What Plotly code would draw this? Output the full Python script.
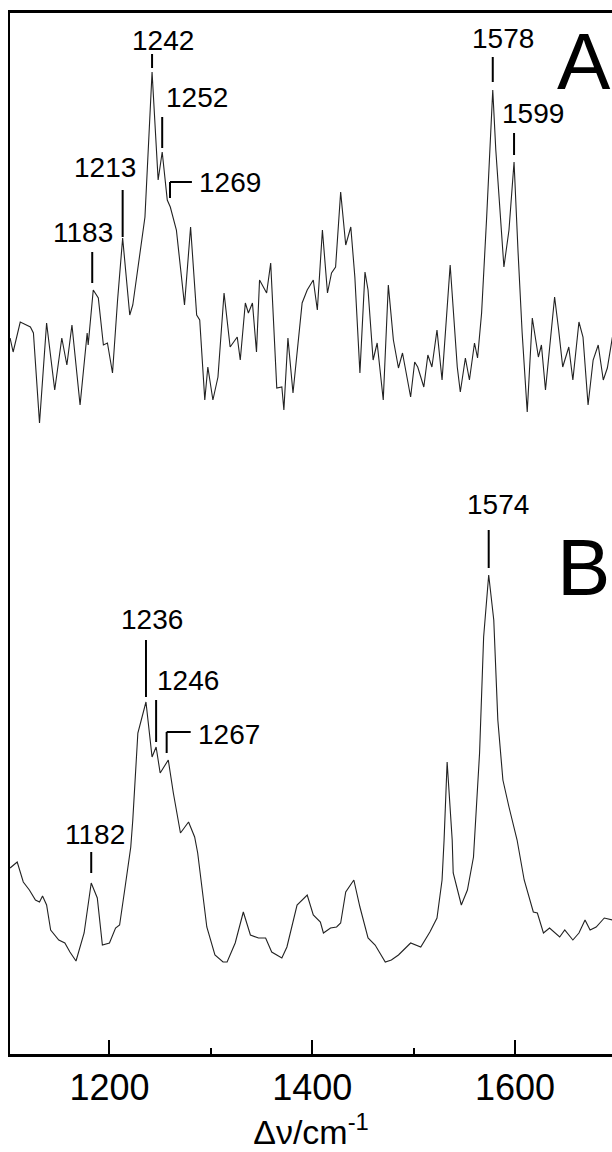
import plotly.graph_objects as go

# Raman spectra (wavenumber in cm-1, intensity in arbitrary offset units)
wn_a = [1102, 1105, 1112, 1122, 1125, 1131, 1138, 1146, 1153, 1158, 1163, 1171, 1178, 1179,
        1184, 1189, 1194, 1198, 1203, 1208, 1213, 1220, 1223, 1235, 1242, 1248, 1252, 1257,
        1260, 1266, 1274, 1280, 1286, 1289, 1294, 1297, 1302, 1307, 1313, 1319, 1326, 1329,
        1334, 1337, 1341, 1345, 1348, 1355, 1359, 1365, 1370, 1372, 1376, 1381, 1390, 1395,
        1401, 1405, 1410, 1415, 1419, 1423, 1428, 1433, 1438, 1442, 1447, 1452, 1455, 1460,
        1464, 1470, 1475, 1480, 1485, 1489, 1497, 1501, 1504, 1510, 1514, 1518, 1523, 1528,
        1536, 1543, 1546, 1551, 1555, 1560, 1563, 1567, 1572, 1578, 1581, 1584, 1589, 1594,
        1599, 1603, 1607, 1612, 1617, 1623, 1626, 1630, 1639, 1643, 1647, 1653, 1657, 1663,
        1667, 1672, 1677, 1682, 1687, 1691, 1696]
int_a = [71.6, 70.2, 73.2, 72.7, 72.1, 63.1, 73.1, 66.4, 71.6, 68.9, 72.9, 64.9, 72.1, 70.9,
         76.4, 75.6, 70.9, 71.1, 68.1, 75.4, 81.6, 73.9, 74.9, 83.7, 98.2, 87.4, 90.2, 85.4,
         84.7, 82.4, 74.9, 82.7, 73.9, 73.4, 65.4, 68.7, 65.4, 67.7, 76.1, 70.7, 71.7, 69.4,
         75.1, 74.1, 75.1, 70.2, 77.4, 76.1, 79.1, 66.6, 66.7, 64.4, 71.6, 66.1, 75.1, 76.4,
         77.4, 74.4, 82.4, 76.1, 78.1, 78.7, 86.2, 80.9, 82.7, 77.7, 68.1, 78.2, 76.4, 69.4,
         71.1, 65.4, 76.9, 71.4, 68.6, 70.1, 65.7, 69.2, 68.7, 66.7, 69.9, 68.7, 72.4, 67.4,
         78.9, 68.7, 66.2, 69.6, 67.4, 71.1, 69.6, 74.1, 83.7, 96.4, 90.4, 86.2, 78.7, 82.4,
         89.2, 80.1, 72.1, 64.2, 73.6, 69.7, 70.9, 66.4, 75.7, 72.4, 68.7, 70.7, 67.4, 73.2,
         71.7, 64.9, 69.4, 70.9, 67.4, 68.6, 71.7]

wn_b = [1102, 1109, 1115, 1121, 1127, 1131, 1134, 1138, 1142, 1150, 1156, 1161, 1167, 1175,
        1182, 1188, 1193, 1200, 1206, 1210, 1215, 1221, 1223, 1228, 1236, 1242, 1246, 1250,
        1258, 1263, 1270, 1278, 1284, 1287, 1296, 1304, 1312, 1316, 1324, 1332, 1339, 1347,
        1354, 1360, 1370, 1375, 1385, 1395, 1401, 1408, 1411, 1418, 1424, 1428, 1433, 1441,
        1447, 1455, 1462, 1472, 1478, 1485, 1497, 1507, 1516, 1523, 1528, 1530, 1533, 1538,
        1539, 1547, 1553, 1559, 1565, 1569, 1574, 1579, 1583, 1588, 1594, 1602, 1609, 1618,
        1622, 1628, 1634, 1638, 1644, 1649, 1657, 1663, 1669, 1674, 1680, 1688, 1696]
int_b = [18.6, 19.2, 17.2, 16.4, 15.4, 15.2, 15.8, 14.9, 12.4, 11.4, 11.1, 10.2, 9.3, 12.1,
         17.1, 15.6, 10.9, 11.1, 12.6, 12.9, 16.4, 20.7, 23.4, 32.1, 35.2, 29.7, 30.7, 28.1,
         29.4, 26.1, 22.1, 23.2, 21.7, 20.1, 12.7, 9.9, 9.2, 9.2, 11.1, 14.2, 11.9, 11.6,
         11.6, 10.2, 9.6, 10.7, 14.9, 15.9, 13.9, 13.2, 12.1, 12.6, 12.7, 13.1, 16.2, 17.4,
         14.7, 11.6, 10.9, 9.2, 9.4, 9.9, 11.1, 10.7, 12.2, 13.6, 17.4, 21.4, 29.2, 21.4,
         18.1, 14.9, 16.4, 19.7, 30.1, 41.7, 47.9, 43.4, 33.4, 27.4, 24.7, 21.4, 17.4, 14.2,
         14.1, 12.1, 12.6, 12.2, 11.7, 12.4, 11.4, 12.1, 13.4, 12.4, 12.7, 13.6, 13.4]

# Peak assignments
peaks_a = [1183, 1213, 1242, 1252, 1269, 1578, 1599]
peaks_b = [1182, 1236, 1246, 1267, 1574]
panel_names = ["A", "B"]

# Label placement: (label x, label y, leader x, leader top, leader bottom, bracket end x or None)
label_layout_a = [
    (1174.2, 82.2, 1183, 80.2, 77.1, None),
    (1195.6, 88.7, 1213, 86.4, 81.7, None),
    (1252.3, 101.4, 1242, 100.0, 98.6, None),
    (1286.0, 95.65, 1252, 93.7, 90.6, None),
    (1318.8, 87.2, 1259.7, 87.2, 85.6, 1281.3),
    (1588.4, 101.6, 1578, 99.7, 97.2, None),
    (1618.0, 94.1, 1599, 92.1, 89.9, None),
]
label_layout_b = [
    (1185.7, 22.0, 1182, 20.2, 18.1, None),
    (1242.4, 43.5, 1236, 41.4, 35.7, None),
    (1277.4, 37.4, 1246, 35.4, 31.2, None),
    (1317.8, 32.0, 1256.4, 32.2, 30.1, 1280.1),
    (1583.4, 55.0, 1574, 52.4, 48.6, None),
]
panel_label_pos = [(1668, 99.25), (1667, 48.65)]

FONT = "Liberation Sans, Arial, sans-serif"

fig = go.Figure()
for wn, inten in ((wn_a, int_a), (wn_b, int_b)):
    fig.add_trace(go.Scatter(x=wn, y=inten, mode="lines",
                             line=dict(color="#222222", width=1.1),
                             hoverinfo="skip", showlegend=False))

annotations = []
shapes = []
for peaks, layout in ((peaks_a, label_layout_a), (peaks_b, label_layout_b)):
    for val, (lx, ly, tx, ttop, tbot, bend) in zip(peaks, layout):
        annotations.append(dict(x=lx, y=ly, xref="x", yref="y", text=str(val),
                                showarrow=False, xanchor="center", yanchor="middle",
                                font=dict(family=FONT, size=28, color="black")))
        shapes.append(dict(type="line", xref="x", yref="y", x0=tx, x1=tx, y0=ttop, y1=tbot,
                           line=dict(color="black", width=2)))
        if bend is not None:
            shapes.append(dict(type="line", xref="x", yref="y", x0=tx, x1=bend,
                               y0=ttop, y1=ttop, line=dict(color="black", width=2)))

for name, (px, py) in zip(panel_names, panel_label_pos):
    annotations.append(dict(x=px, y=py, xref="x", yref="y", text=name, showarrow=False,
                            xanchor="center", yanchor="middle",
                            font=dict(family=FONT, size=80, color="black")))

fig.update_layout(
    width=612, height=1152,
    margin=dict(l=10, r=0, t=13, b=98),
    paper_bgcolor="white", plot_bgcolor="white",
    font=dict(family=FONT, color="black"),
    annotations=annotations, shapes=shapes,
    xaxis=dict(range=[1101.9, 1695.6], showgrid=False, zeroline=False,
               showline=True, linecolor="black", linewidth=2.5, mirror=True,
               ticks="inside", ticklen=14, tickwidth=2, tickcolor="black",
               tickvals=[1200, 1400, 1600], ticktext=["1200", "1400", "1600"],
               tickfont=dict(family=FONT, size=36, color="black"),
               minor=dict(tickvals=[1300, 1500], ticks="inside", ticklen=6,
                          tickwidth=2, tickcolor="black"),
               title=dict(text="Δν/cm<sup>-1</sup>", standoff=9,
                          font=dict(family=FONT, size=34, color="black"))),
    yaxis=dict(range=[0, 104.1], showgrid=False, zeroline=False, showticklabels=False,
               showline=True, linecolor="black", linewidth=2, ticks=""),
)

fig.write_html("out.html")
